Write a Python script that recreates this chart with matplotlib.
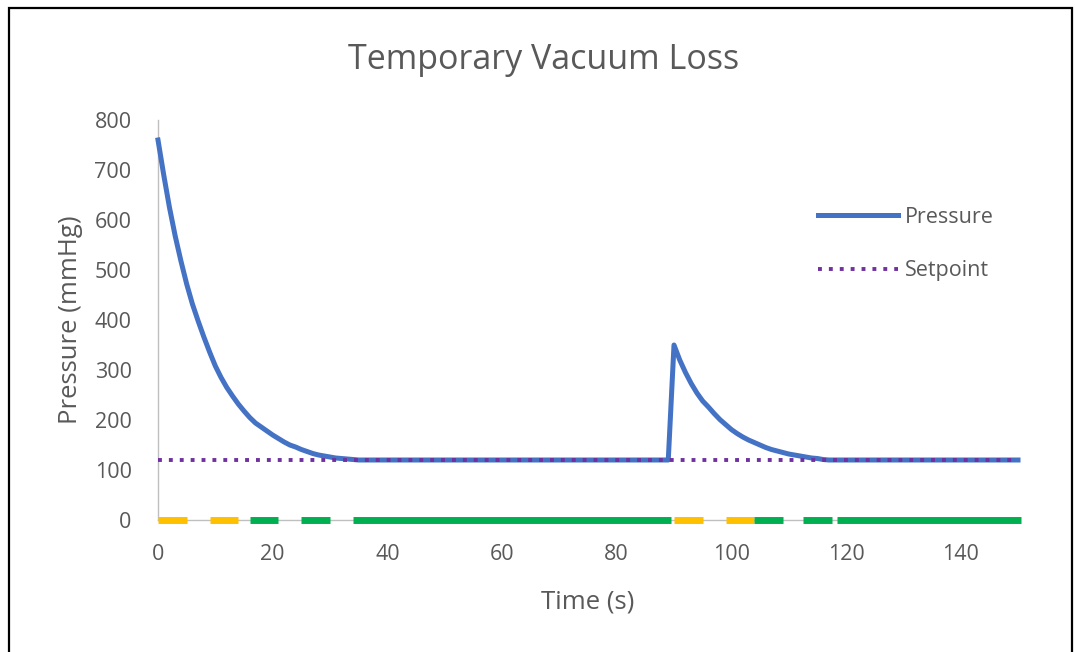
import matplotlib.pyplot as plt
from matplotlib.patches import Rectangle

# --- Data ---
time_s = [0, 1, 2, 3, 4, 5, 6, 7, 8, 9, 10, 11, 12, 13, 14, 15, 16, 17, 18,
          19, 20, 21, 22, 23, 24, 25, 26, 27, 28, 29, 30, 31, 32, 33, 34, 35,
          89, 90, 91, 92, 93, 94, 95, 96, 97, 98, 99, 100, 101, 102, 103,
          104, 105, 106, 107, 108, 109, 110, 111, 112, 113, 114, 115, 116,
          117, 150]
pressure = [760, 690, 625, 568, 518, 472, 432, 398, 366, 336, 308, 285, 265,
            248, 232, 218, 205, 194, 186, 178, 170, 163, 156, 150, 146, 141,
            137, 133, 130, 128, 126, 124, 123, 122, 121, 120,
            120, 350, 320, 295, 273, 254, 238, 226, 213, 201, 191, 181, 173,
            166, 160, 155, 150, 145, 141, 138, 135, 132, 130, 128, 126, 124,
            123, 121, 120, 120]

setpoint_t = [0, 150]
setpoint = [120, 120]

# status bar along the time axis (start, end, state)
status_start = [0, 9, 16, 25, 34, 90, 99, 104, 112.5, 118.5]
status_end = [5, 14, 21, 30, 89.5, 95, 104, 109, 117.5, 150.5]
status_state = ["wait", "wait", "ok", "ok", "ok", "wait", "wait", "ok", "ok", "ok"]
state_colors = {"wait": "#FFC000", "ok": "#00B050"}

txt = "#595959"
plt.rcParams['font.family'] = ['Open Sans', 'DejaVu Sans']

fig = plt.figure(figsize=(10.75, 6.52), dpi=100)
ax = fig.add_axes([158 / 1075, 1 - 520 / 652, 860 / 1075, 400 / 652])

# status segments
for s, e, st in zip(status_start, status_end, status_state):
    ax.plot([s, e], [0, 0], color=state_colors[st], linewidth=5,
            solid_capstyle='butt', clip_on=False, zorder=3)

line_p, = ax.plot(time_s, pressure, color="#4472C4", linewidth=3.6,
                  solid_joinstyle='round', clip_on=False, zorder=4,
                  label="Pressure")
line_s, = ax.plot(setpoint_t, setpoint, color="#7030A0", linewidth=2.8,
                  linestyle=(0, (1, 1.8)), clip_on=False, zorder=5,
                  label="Setpoint")

ax.set_xlim(0, 150)
ax.set_ylim(0, 800)
ax.set_xticks(range(0, 141, 20))
ax.set_yticks(range(0, 801, 100))
ax.tick_params(length=0, labelsize=15.5, colors=txt)
ax.tick_params(axis='x', pad=17)
ax.tick_params(axis='y', pad=19)

for side in ['top', 'right']:
    ax.spines[side].set_visible(False)
for side in ['left', 'bottom']:
    ax.spines[side].set_color('#BFBFBF')
    ax.spines[side].set_linewidth(1)

ax.set_xlabel("Time (s)", fontsize=18.5, color=txt, labelpad=18)
ax.set_ylabel("Pressure (mmHg)", fontsize=18.5, color=txt, labelpad=8)

fig.text(0.506, 1 - 60 / 652, "Temporary Vacuum Loss", ha='center',
         va='center', fontsize=24.5, color=txt)

leg = ax.legend(handles=[line_p, line_s], loc='upper left',
                bbox_to_anchor=(818 / 1075, 1 - 207 / 652),
                bbox_transform=fig.transFigure, frameon=False,
                fontsize=15.5, handlelength=3.7, handletextpad=0.35,
                labelspacing=1.5, borderpad=0, borderaxespad=0)
for t in leg.get_texts():
    t.set_color(txt)

# chart border
fig.patches.append(Rectangle((8.5 / 1075, -0.05), 1063 / 1075,
                             1.05 - 8 / 652, transform=fig.transFigure,
                             fill=False, edgecolor='black', linewidth=1.6))

fig.savefig("out.png", dpi=100, facecolor='white')
